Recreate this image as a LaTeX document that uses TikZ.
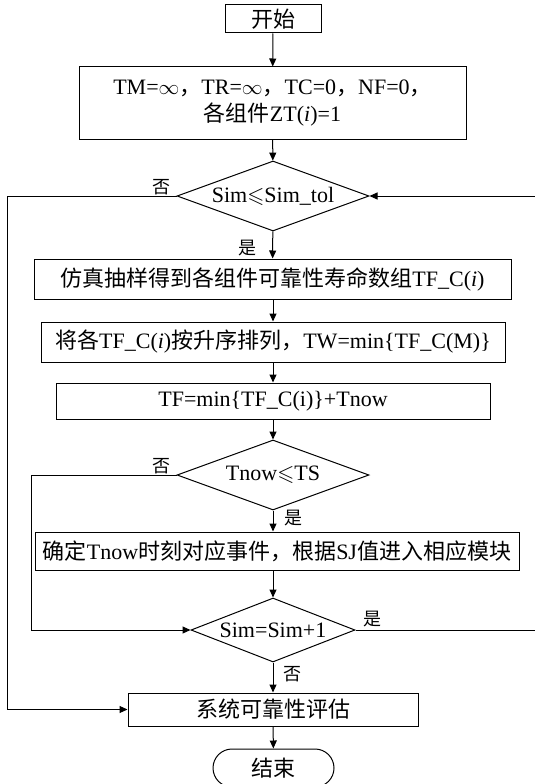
\documentclass[tikz,border=0pt]{standalone}
\usepackage{amssymb}
\usepackage{fontspec}
\setmainfont{Liberation Serif}
\newfontfamily\cjk{Noto Sans CJK SC}
\usetikzlibrary{shapes.geometric,shapes.misc,arrows.meta}

\begin{document}
\begin{tikzpicture}[x=1pt,y=-1pt,
  every node/.style={font=\fontsize{22}{27}\selectfont},
  proc/.style={draw,rectangle,line width=1pt,inner sep=0pt,align=center},
  decide/.style={draw,diamond,line width=1pt,inner sep=0pt},
  term/.style={draw,rounded rectangle,line width=1pt,inner sep=0pt},
  lbl/.style={font=\fontsize{18}{18}\selectfont\cjk,inner sep=0pt},
  flow/.style={line width=1pt,-{Triangle[length=8pt,width=7pt]}},
  wire/.style={line width=1pt}]
\useasboundingbox (0,0) rectangle (535,784);

% main column of steps
\node[proc,minimum width=96pt,minimum height=28pt] (start) at (273,19) {{\cjk 开始}};
\node[proc,minimum width=387pt,minimum height=72pt] (init) at (272.5,103)
  {TM=$\infty${\cjk ，}TR=$\infty${\cjk ，}TC=0{\cjk ，}NF=0{\cjk ，}\\{\cjk 各组件}ZT(\textit{i})=1};
\node[decide,minimum width=192pt,minimum height=70pt] (d1) at (273,196) {};
\node (d1text) at (d1) {Sim$\leqslant$Sim\_tol};
\node[proc,minimum width=477pt,minimum height=40pt] (b3) at (272.5,279)
  {{\cjk 仿真抽样得到各组件可靠性寿命数组}TF\_C(\textit{i})};
\node[proc,minimum width=464pt,minimum height=40pt] (b4) at (273,342)
  {{\cjk 将各}TF\_C(\textit{i}){\cjk 按升序排列，}TW=min\{TF\_C(M)\}};
\node[proc,minimum width=434pt,minimum height=36pt] (b5) at (273,401)
  {TF=min\{TF\_C(i)\}+Tnow};
\node[decide,minimum width=192pt,minimum height=70pt] (d2) at (273,475) {};
\node (d2text) at (d2) {Tnow$\leqslant$TS};
\node[proc,minimum width=484pt,minimum height=38pt] (b6) at (277,551)
  {{\cjk 确定}Tnow{\cjk 时刻对应事件，根据}SJ{\cjk 值进入相应模块}};
\node[decide,minimum width=164pt,minimum height=64pt] (d3) at (273,630) {};
\node (d3text) at (d3) {Sim=Sim+1};
\node[proc,minimum width=290pt,minimum height=33pt] (b7) at (273,709.5)
  {{\cjk 系统可靠性评估}};
\node[term,minimum width=121pt,minimum height=38pt] (stop) at (273.5,768)
  {{\cjk 结束}};

% side rails of the loops
\coordinate (railL) at (7,0);
\coordinate (railM) at (31,0);
\coordinate (railR) at (540,0);

% straight flow
\draw[flow] (start) -- (init);
\draw[flow] (init) -- (d1);
\draw[flow] (d1) -- (b3);
\draw[flow] (b3.south -| d1.south) -- (b4.north -| d1.south);
\draw[flow] (b4) -- (b5);
\draw[flow] (b5) -- (d2);
\draw[flow] (d2.south) -- (d2.south |- b6.north);
\draw[flow] (b6.south -| d3.north) -- (d3.north);
\draw[flow] (d3) -- (b7);
\draw[flow] (b7) -- (stop);

% loops
\draw[flow] (d1.west) -- (d1.west -| railL) |- (b7.west);
\draw[flow] (d2.west) -- (d2.west -| railM) |- (d3.west);
\draw[flow] (d3.east) -- (d3.east -| railR) |- (d1.east);

% branch labels
\node[lbl] (n1) at (161,187) {否};
\node[lbl] (y1) at (247,248) {是};
\node[lbl] (n2) at (161,466) {否};
\node[lbl] (y2) at (293,518) {是};
\node[lbl] (y3) at (372,619) {是};
\node[lbl] (n3) at (292,674) {否};
\end{tikzpicture}
\end{document}
